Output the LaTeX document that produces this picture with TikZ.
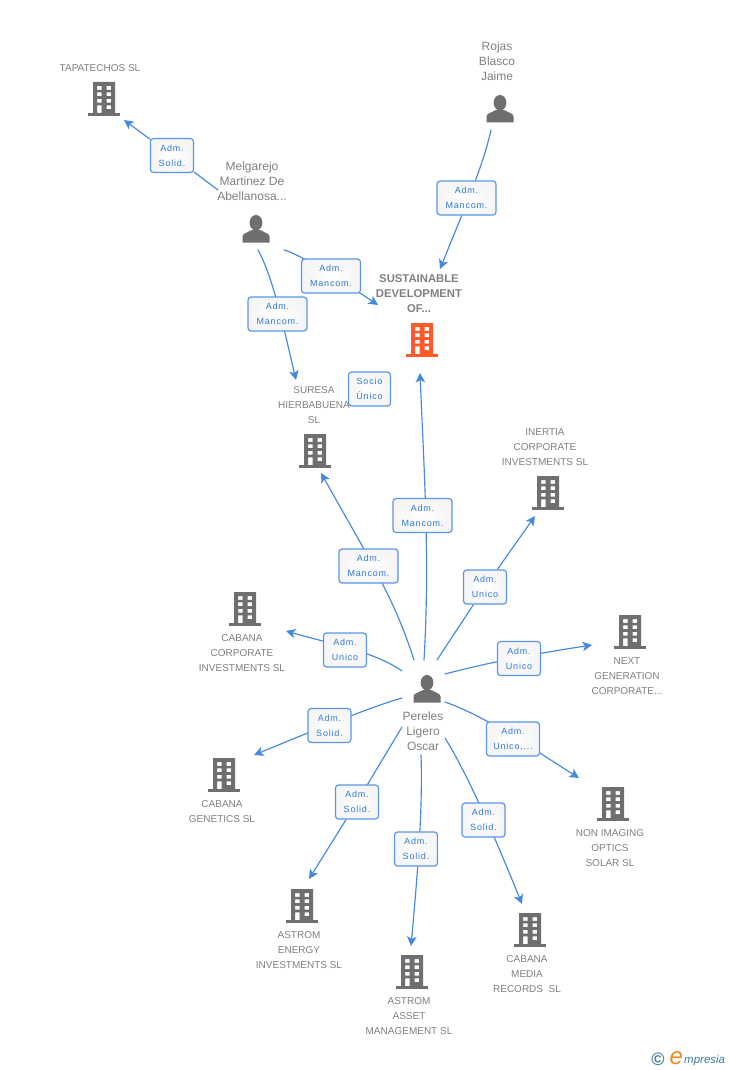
\documentclass[tikz,border=0pt]{standalone}
\usepackage{fontspec}
\setmainfont{Liberation Sans}
\newfontfamily\lblfont[LetterSpace=9]{Liberation Sans}
\usetikzlibrary{arrows.meta,backgrounds}
\definecolor{linkblue}{HTML}{4488E2}
\definecolor{boxblue}{HTML}{5B97E6}
\definecolor{lbltext}{HTML}{2F78D8}
\definecolor{icongrey}{HTML}{6F6F6F}
\definecolor{txtgrey}{HTML}{808080}
\definecolor{orgorange}{HTML}{FF5A2C}
\definecolor{logoteal}{HTML}{3F7F9A}
\definecolor{logoorange}{HTML}{F08A1E}
\tikzset{
  x=1pt,y=-1pt,
  link/.style={draw=linkblue,line width=1.15pt,line cap=round},
  arrowed/.style={link,-{Stealth[length=9.5pt,width=9.5pt,inset=2.5pt]}},
  lbl/.style={draw=boxblue,line width=1.2pt,fill=white,inner color=white,outer color=white!96!black,rounded corners=3pt,
    text=lbltext,font=\lblfont\fontsize{9}{15}\selectfont,align=center,inner sep=0pt,minimum height=34pt},
  mancom/.style={lbl,minimum width=59pt},
  solid/.style={lbl,minimum width=43pt},
  uni/.style={lbl,minimum width=43pt},
  org/.style={text=txtgrey,font=\fontsize{10}{15}\selectfont,align=center,inner sep=0pt},
  orgmain/.style={text=txtgrey,font=\bfseries\fontsize{11.3}{15}\selectfont,align=center,inner sep=0pt},
  who/.style={text=txtgrey,font=\fontsize{12}{15}\selectfont,align=center,inner sep=0pt},
}
\newcommand{\bldg}[4][icongrey]{%
  \coordinate (#2) at (#3,#4);
  \begin{scope}[shift={(#3,#4)}]
    \fill[#1,even odd rule]
      (-11,-17) rectangle (11,14)
      (-7,-13) rectangle (-2.5,-9.2) (2.5,-13) rectangle (7,-9.2)
      (-7,-6.6) rectangle (-2.5,-2.8) (2.5,-6.6) rectangle (7,-2.8)
      (-7,-0.2) rectangle (-2.5,3.6) (2.5,-0.2) rectangle (7,3.6)
      (-7,6.4) rectangle (-2.5,14) (2.5,6.4) rectangle (7,10.2);
    \fill[#1] (-16,14) rectangle (16,17);
  \end{scope}}
\newcommand{\persona}[3]{%
  \coordinate (#1) at (#2,#3);
  \begin{scope}[shift={(#2,#3)}]
    \fill[icongrey] (0,-6.3) ellipse [x radius=6.4,y radius=7.7];
    \fill[icongrey] (-13.5,13.5) -- (-13.5,7.5) .. controls (-13.5,4.5) and (-9,3.8) .. (-4,1)
      -- (4,1) .. controls (9,3.8) and (13.5,4.5) .. (13.5,7.5) -- (13.5,13.5) -- cycle;
  \end{scope}}
\begin{document}
\begin{tikzpicture}
\useasboundingbox (0,0) rectangle (728,1070);

% icons
\bldg{bTapa}{104}{99}
\bldg[orgorange]{bSust}{422}{340}
\bldg{bSuresa}{315}{451}
\bldg{bInertia}{548}{493}
\bldg{bCorp}{245}{609}
\bldg{bNext}{630}{632}
\bldg{bGen}{224}{775}
\bldg{bNon}{613}{804}
\bldg{bEnergy}{302}{906}
\bldg{bAsset}{412}{972}
\bldg{bMedia}{530}{930}
\persona{pRojas}{500}{109}
\persona{pMelg}{256}{229}
\persona{pPer}{427}{689}

% texts
\node[org] (tTapa) at (100,68) {TAPATECHOS SL};
\node[who] (tRojas) at (497,61) {Rojas\\Blasco\\Jaime};
\node[who] (tMelg) at (252,181) {Melgarejo\\Martinez De\\Abellanosa...};
\node[orgmain] (tSust) at (419,294) {SUSTAINABLE\\DEVELOPMENT\\OF...};
\node[org] (tSuresa) at (314,405) {SURESA\\HIERBABUENA\\SL};
\node[org] (tInertia) at (545,447) {INERTIA\\CORPORATE\\INVESTMENTS SL};
\node[org] (tCorp) at (242,653) {CABANA\\CORPORATE\\INVESTMENTS SL};
\node[org] (tNext) at (627,676) {NEXT\\GENERATION\\CORPORATE...};
\node[who] (tPer) at (423,731) {Pereles\\Ligero\\Oscar};
\node[org] (tGen) at (222,811.5) {CABANA\\GENETICS SL};
\node[org] (tNon) at (610,848) {NON IMAGING\\OPTICS\\SOLAR SL};
\node[org] (tEnergy) at (299,950) {ASTROM\\ENERGY\\INVESTMENTS SL};
\node[org] (tAsset) at (409,1016) {ASTROM\\ASSET\\MANAGEMENT SL};
\node[org] (tMedia) at (527,974) {CABANA\\MEDIA\\RECORDS\ \ SL};

% labels
\node[solid] (lTapa) at (172,155.5) {Adm.\\Solid.};
\node[mancom] (lMelgS) at (331,276) {Adm.\\Mancom.};
\node[mancom] (lMelgH) at (277.5,314) {Adm.\\Mancom.};
\node[mancom] (lRojas) at (466.5,198) {Adm.\\Mancom.};
\node[lbl,minimum width=42pt] (lSocio) at (369.5,389) {Socio\\Único};
\node[mancom] (lPerS) at (422.5,515.5) {Adm.\\Mancom.};
\node[mancom] (lPerH) at (368.5,566) {Adm.\\Mancom.};
\node[uni] (lInertia) at (485,587) {Adm.\\Unico};
\node[uni] (lCorp) at (345,650) {Adm.\\Unico};
\node[uni] (lNext) at (519,658.5) {Adm.\\Unico};
\node[solid] (lGen) at (329.5,725.5) {Adm.\\Solid.};
\node[lbl,minimum width=53pt] (lNon) at (513,739) {Adm.\\Unico,...};
\node[solid] (lEnergy) at (357,802) {Adm.\\Solid.};
\node[solid] (lAsset) at (416,849) {Adm.\\Solid.};
\node[solid] (lMedia) at (483.5,820) {Adm.\\Solid.};

% logo
\node[inner sep=0pt,text=logoteal,font=\bfseries\fontsize{18}{18}\selectfont] (logoC) at (658,1059) {©};
\node[inner sep=0pt,anchor=base west,text=logoorange,font=\itshape\fontsize{24}{24}\selectfont] (logoE) at (669.5,1064) {e};
\node[inner sep=0pt,anchor=base west,text=logoteal,font=\itshape\fontsize{11.5}{11.5}\selectfont] (logoT) at (684,1063.5) {mpresia};

% free ends of the connectors
\coordinate (sMT) at (218,190);
\coordinate (eMT) at (124,120);
\coordinate (sMS) at (284,250);
\coordinate (eMS) at (378,305);
\coordinate (sMH) at (258,250);
\coordinate (eMH) at (296,380);
\coordinate (sR) at (491,130);
\coordinate (eR) at (440,269);
\coordinate (sPS) at (424,660);
\coordinate (ePS) at (420,373);
\coordinate (sPH) at (414,660);
\coordinate (ePH) at (321,473);
\coordinate (sPI) at (437,660);
\coordinate (ePI) at (535,516);
\coordinate (sPC) at (402,671);
\coordinate (ePC) at (286,631);
\coordinate (sPN) at (445,674);
\coordinate (ePN) at (592,645);
\coordinate (sPG) at (402,698);
\coordinate (ePG) at (254,755);
\coordinate (sPO) at (445,702);
\coordinate (ePO) at (579,778);
\coordinate (sPE) at (402,727);
\coordinate (ePE) at (309,879);
\coordinate (sPA) at (421,755);
\coordinate (ePA) at (411,946);
\coordinate (sPM) at (445,738);
\coordinate (ePM) at (522,904);

\begin{scope}[on background layer]
\fill[white] (0,0) rectangle (728,1070);
\draw[arrowed] (sMT) -- (lTapa) -- (eMT);
\draw[arrowed] (sMS) .. controls (300,254) and (345,283) .. (eMS);
\draw[arrowed] (sMH) .. controls (272,275) and (282,320) .. (eMH);
\draw[arrowed] (sR) .. controls (483,165) and (470,195) .. (eR);
\draw[arrowed] (sPS) .. controls (430,560) and (424,470) .. (ePS);
\draw[arrowed] (sPH) .. controls (395,600) and (370,560) .. (ePH);
\draw[arrowed] (sPI) -- (lInertia) -- (ePI);
\draw[arrowed] (sPC) .. controls (375,652) and (335,645) .. (ePC);
\draw[arrowed] (sPN) .. controls (490,662) and (540,653) .. (ePN);
\draw[arrowed] (sPG) .. controls (370,707) and (310,732) .. (ePG);
\draw[arrowed] (sPO) .. controls (485,716) and (530,747) .. (ePO);
\draw[arrowed] (sPE) -- (lEnergy) -- (ePE);
\draw[arrowed] (sPA) .. controls (423,810) and (417,880) .. (ePA);
\draw[arrowed] (sPM) .. controls (465,770) and (490,825) .. (ePM);
\end{scope}
\end{tikzpicture}
\end{document}
